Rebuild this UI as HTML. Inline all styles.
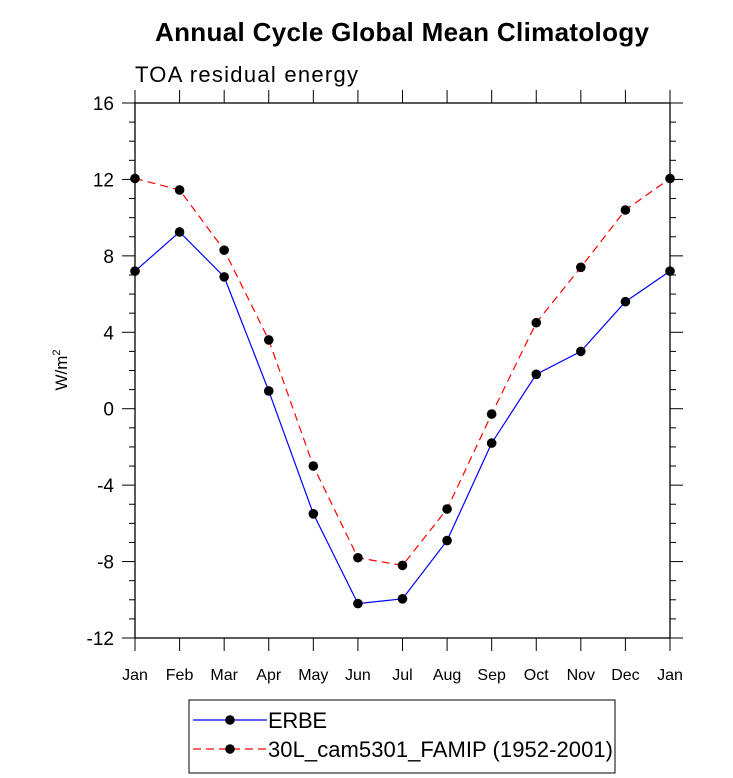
<!DOCTYPE html>
<html><head><meta charset="utf-8"><style>
body{margin:0;background:#fff;}
svg{display:block;font-family:"Liberation Sans",Helvetica,Arial,sans-serif;}
</style></head><body>
<svg id="chart" width="733" height="778">
<text x="402" y="41" text-anchor="middle" font-size="26" font-weight="bold" textLength="494">Annual Cycle Global Mean Climatology</text>
<text x="135" y="82" font-size="22" textLength="223">TOA residual energy</text>
<text transform="translate(67,370) rotate(-90)" text-anchor="middle" font-size="17">W/m<tspan dy="-7" font-size="11">2</tspan></text>
<g id="axes"></g><g id="series"></g>
<g>
<rect x="189" y="700" width="426" height="73" fill="#fff" stroke="#000" stroke-width="1"/>
<g>
<line x1="193" y1="720" x2="267" y2="720" stroke="#0000ff" stroke-width="1.2"/>
<circle cx="230" cy="720" r="4.8" fill="#000"/>
<text x="268" y="728" font-size="22" textLength="59">ERBE</text></g>
<g>
<line x1="193" y1="749" x2="267" y2="749" stroke="#ff0000" stroke-width="1.2" stroke-dasharray="8,5"/>
<circle cx="230" cy="749" r="4.8" fill="#000"/>
<text x="268" y="757" font-size="22" textLength="345">30L_cam5301_FAMIP (1952-2001)</text></g>
</g>
</svg>
<script>
const months=["Jan","Feb","Mar","Apr","May","Jun","Jul","Aug","Sep","Oct","Nov","Dec","Jan"];
const erbe=[7.2,9.25,6.9,0.93,-5.5,-10.2,-9.95,-6.9,-1.8,1.8,3.0,5.6,7.2];
const model=[12.05,11.45,8.3,3.6,-3.0,-7.8,-8.2,-5.25,-0.28,4.5,7.4,10.4,12.05];
const yTicks=[16,12,8,4,0,-4,-8,-12];
const NS="http://www.w3.org/2000/svg";
const L=135,R=670,T=103,B=638,ymin=-12,ymax=16;
const xs=i=>L+(R-L)*i/(months.length-1);
const ys=v=>B-(v-ymin)/(ymax-ymin)*(B-T);
function mk(tag,at,parent){const e=document.createElementNS(NS,tag);for(const k in at)e.setAttribute(k,at[k]);parent.appendChild(e);return e;}
const ax=document.getElementById('axes');
const frame=mk('rect',{x:L,y:T,width:R-L,height:B-T,fill:'none',stroke:'#000','stroke-width':1.3},ax);


for(let v=ymin;v<=ymax;v++){
  const major=yTicks.includes(v);const len=major?13:6;const y=ys(v);
  mk('line',{x1:L-len,y1:y,x2:L,y2:y,stroke:'#000','stroke-width':1},ax);
  mk('line',{x1:R,y1:y,x2:R+len,y2:y,stroke:'#000','stroke-width':1},ax);
}
yTicks.forEach(v=>{const t=mk('text',{x:L-21,y:ys(v)+7,'text-anchor':'end','font-size':19},ax);t.textContent=v;

});
months.forEach((m,i)=>{const x=xs(i);
  mk('line',{x1:x,y1:B,x2:x,y2:B+13,stroke:'#000','stroke-width':1},ax);
  mk('line',{x1:x,y1:T-13,x2:x,y2:T,stroke:'#000','stroke-width':1},ax);
  const t=mk('text',{x:x,y:B+42,'text-anchor':'middle','font-size':16},ax);t.textContent=m;
  
  });
const sg=document.getElementById('series');
function series(vals,color,dash,name){
  const g=mk('g',{},sg);
  
  
  const p=mk('polyline',{points:vals.map((v,i)=>xs(i)+','+ys(v)).join(' '),fill:'none',stroke:color,'stroke-width':1.2},g);
  if(dash)p.setAttribute('stroke-dasharray',dash);
  vals.forEach((v,i)=>{const c=mk('circle',{cx:xs(i),cy:ys(v),r:4.8,fill:'#000'},g);
    
    });
}
series(model,'#ff0000','8,5','series-model');
series(erbe,'#0000ff',null,'series-erbe');
</script>
</body></html>
